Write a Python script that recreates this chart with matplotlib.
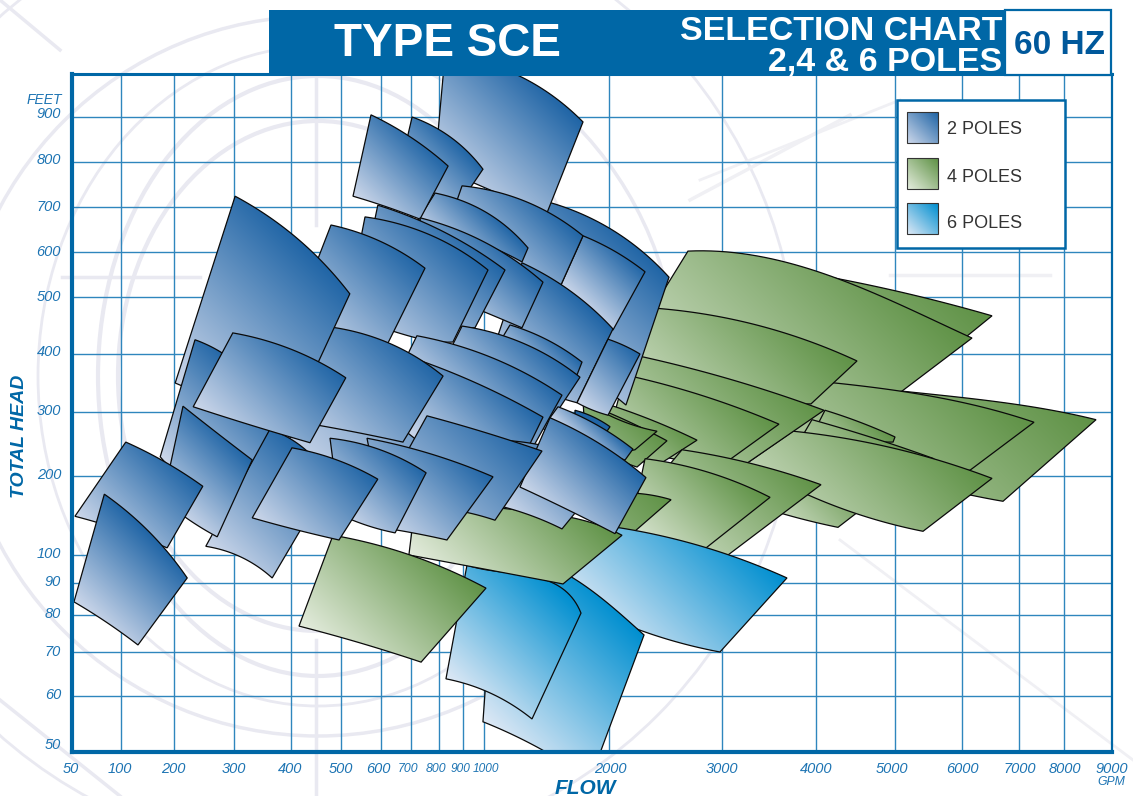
import numpy as np
import matplotlib
matplotlib.use("Agg")
import matplotlib.pyplot as plt
from matplotlib.colors import to_rgb
from matplotlib.patches import Ellipse, Rectangle, PathPatch
from matplotlib.path import Path

# printed axis, the spacing is not a true log scale
flow_ticks = [50, 100, 200, 300, 400, 500, 600, 700, 800, 900, 1000, 2000, 3000, 4000, 5000, 6000, 7000, 8000, 9000]
head_ticks = [40, 50, 60, 70, 80, 90, 100, 200, 300, 400, 500, 600, 700, 800, 900, 1000, 1300]

# every region: flow and head along the top edge (left to right),
# then flow and head along the bottom edge (right to left)
four_poles_back = [
    ([3830, 5567, 6526], [556, 495, 467], [5597, 4684, 3830], [386, 364, 355]),
    ([3830, 5104, 6667, 8667], [359, 336, 317, 288], [6719, 6140, 5075, 3830], [168, 176, 195, 209]),
    ([2699, 3479, 4392, 6175], [602, 587, 533, 428], [5104, 3511, 2186], [336, 321, 416]),
    ([3617, 4241, 5821, 7333], [359, 350, 321, 284], [6140, 4684, 3404], [209, 209, 225]),
    ([4114, 4557, 5000], [303, 284, 261], [4975, 4557, 3989], [253, 256, 272]),
    ([3957, 4810, 5582], [288, 256, 227], [5448, 4557, 3830], [209, 209, 256]),
    ([3617, 4177, 4810], [209, 189, 176], [4278, 3936, 3511], [135, 143, 157]),
    ([3755, 5075, 6526], [270, 241, 197], [5418, 4646, 3266], [130, 148, 220]),
    ([2363, 3479, 4519], [481, 446, 388], [3947, 2982, 2186], [314, 321, 347]),
    ([2230, 3117, 4101], [398, 355, 303], [3266, 2717, 2053], [220, 241, 288]),
    ([2142, 2894, 3606], [364, 324, 281], [3096, 2628, 2009], [227, 225, 272]),
    ([2009, 2425, 2779], [312, 284, 256], [2478, 2186, 1928], [222, 225, 241]),
    ([1848, 2186, 2513], [312, 284, 255], [2248, 2009, 1848], [214, 233, 256]),
    ([1792, 2035, 2425], [321, 292, 270], [2230, 2009, 1808], [241, 241, 264]),
    ([2646, 3298, 4063], [241, 220, 189], [3064, 2717, 2274], [100, 113, 170]),
    ([2319, 2894, 3511], [227, 205, 173], [2850, 2540, 2186], [108, 113, 132]),
    ([2248, 2407, 2549], [178, 175, 170], [2212, 2053, 1928], [128, 134, 144]),
]
four_back_shade = [.5, .35, .2, .3, .4, .4, .2, .3, .2, .3, .3, .3, .6, .6, .25, .1, .7]

six_poles = [
    ([1928, 2867, 3691], [138, 109, 91.8], [2982, 2274, 1568], [70.0, 75.9, 87.8]),
    ([1088, 1712, 2009, 2310], [104, 91.8, 83.1, 74.6], [1848, 1464, 995], [44.2, 50.4, 55.4]),
    ([919, 1208, 1552, 1776], [96.4, 93.6, 90.0, 80.6], [1384, 1048, 829], [55.9, 60.7, 63.9]),
]
six_shade = [0, 0, 0]

four_poles_front = [
    ([721, 1152, 1712, 2115], [182, 159, 147, 125], [1632, 1048, 693], [89.7, 94.6, 100]),
    ([484, 697, 1016], [125, 100, 88.4], [736, 540, 416], [67.7, 72.7, 77.0]),
]
four_front_shade = [0, 0]

two_poles = [
    ([1448, 1984, 2531], [716, 656, 544], [2150, 1768, 1368], [312, 372, 425]),
    ([510, 768, 1208], [416, 372, 338], [933, 598, 386], [170, 209, 241]),
    ([825, 1264, 1792], [1106, 998, 889], [1504, 1048, 786], [687, 738, 793]),
    ([704, 846, 995], [900, 856, 784], [854, 732, 647], [682, 704, 738]),
    ([1792, 2062, 2319], [636, 600, 556], [2035, 1808, 1616], [442, 477, 527]),
    ([896, 1344, 1792], [747, 711, 636], [1616, 1208, 825], [527, 582, 638]),
    ([786, 1024, 1352], [731, 687, 609], [1304, 948, 714], [578, 627, 660]),
    ([575, 704, 838], [905, 853, 791], [732, 620, 530], [673, 700, 724]),
    ([1304, 1712, 2035], [576, 509, 444], [1744, 1448, 1048], [316, 338, 390]),
    ([732, 981, 1472], [676, 627, 533], [1304, 981, 768], [446, 477, 516]),
    ([592, 804, 1168], [704, 649, 560], [957, 732, 548], [446, 460, 516]),
    ([560, 768, 1032], [678, 638, 560], [858, 721, 640, 510], [421, 428, 440, 460]),
    ([480, 590, 750], [660, 627, 564], [623, 498, 404], [419, 433, 454]),
    ([1208, 1504, 1784], [451, 425, 386], [1744, 1448, 1088], [364, 390, 407]),
    ([896, 1312, 1768], [449, 419, 360], [1488, 1128, 804], [272, 321, 372]),
    ([721, 1048, 1624], [432, 395, 329], [1392, 981, 663], [245, 288, 372]),
    ([707, 981, 1472], [393, 347, 292], [1168, 888, 690], [176, 209, 267]),
    ([1128, 1608, 2009], [256, 241, 209], [1624, 1392, 1152], [133, 149, 161]),
    ([1992, 2142, 2274], [426, 414, 400], [1992, 1872, 1744], [295, 303, 316]),
    ([1728, 1888, 2009], [303, 291, 277], [1984, 1848, 1728], [270, 281, 294]),
    ([1592, 1928, 2212], [309, 277, 242], [2142, 1848, 1528], [225, 248, 291]),
    ([1528, 1904, 2327], [291, 253, 198], [2053, 1712, 1288], [127, 154, 186]),
    ([482, 640, 817], [447, 416, 362], [673, 548, 389], [253, 267, 288]),
    ([302, 404, 522], [724, 638, 507], [454, 328, 202], [385, 329, 350]),
    ([235, 280, 384], [425, 402, 259], [309, 243, 174], [162, 182, 230]),
    ([363, 418, 478], [273, 248, 195], [367, 316, 253], [91.8, 98.9, 111]),
    ([215, 272, 332], [310, 267, 225], [272, 232, 179], [123, 141, 170]),
    ([109, 187, 248], [253, 220, 187], [187, 99, 53], [109, 132, 149]),
    ([83, 155, 222], [177, 128, 91.8], [132, 82, 52], [71.9, 78.6, 84.1]),
    ([298, 404, 512], [437, 407, 359], [438, 346, 232], [252, 275, 309]),
    ([757, 995, 1464], [294, 269, 239], [1088, 933, 585], [144, 153, 157]),
    ([565, 804, 1072], [259, 230, 199], [833, 750, 613], [119, 125, 134]),
    ([478, 598, 754], [259, 241, 205], [647, 580, 498], [128, 135, 151]),
    ([402, 492, 592], [244, 225, 196], [496, 404, 332], [119, 133, 147]),
]
two_shade = [.1] + [0] * 18 + [1] + [0] * 14

legend_labels = ["2 POLES", "4 POLES", "6 POLES"]
head_labels = [50, 60, 70, 80, 90, 100, 200, 300, 400, 500, 600, 700, 800, 900]
flow_labels = flow_ticks

BLUE = ("#ccd7ea", "#2065a6")
GREEN = ("#e4ecdd", "#5f9246")
CYAN = ("#dde8f5", "#008fd0")
FRAME = "#0067a6"
LABEL = "#1d74b3"
plt.rcParams["font.family"] = ["Liberation Sans", "DejaVu Sans"]

W, H = 1133, 796
fig = plt.figure(figsize=(W / 100, H / 100), dpi=100)


def pixel_axes(z):
    a = fig.add_axes([0, 0, 1, 1], facecolor="none", zorder=z)
    a.set_xlim(0, W)
    a.set_ylim(H, 0)
    a.axis("off")
    return a


# faded drawing behind the chart
bg = pixel_axes(0)
faint = "#e9e9f1"
pale = "#f0f0f4"
for w, h, lw in [(440, 600, 3), (400, 510, 3), (720, 720, 2.5), (960, 960, 2), (560, 660, 2)]:
    bg.add_patch(Ellipse((318, 376), w, h, fill=False, ec=faint, lw=lw))
bg.plot([316, 316], [74, 225], color=faint, lw=2.5)
bg.plot([316, 316], [640, 796], color=faint, lw=2.5)
bg.plot([62, 200], [277, 277], color=faint, lw=2.5)
bg.plot([0, 120], [700, 796], color=faint, lw=2.5)
bg.plot([0, 60], [0, 50], color=faint, lw=2.5)
bg.plot([690, 850], [200, 115], color=pale, lw=2.5)
bg.plot([700, 900], [180, 100], color=pale, lw=2)
bg.plot([840, 1133], [540, 760], color=pale, lw=2)
bg.plot([890, 1050], [275, 275], color=pale, lw=2.5)

# where the printed ticks sit on the page
flow_px = [72, 121, 174, 234, 291, 341, 381, 411, 439, 463, 484, 609, 722, 816, 895, 962, 1019, 1064, 1112]
head_pos = [796 - p for p in [800, 752, 696, 652, 615, 583, 555, 476, 412, 354, 297, 252, 207, 162, 117, 74, 20]]

L, R, T, B = 72, 1112, 74, 752
ax = fig.add_axes([L / W, 1 - B / H, (R - L) / W, (B - T) / H], facecolor="none", zorder=1)
ax.set_xscale("function", functions=(lambda v: np.interp(v, flow_ticks, flow_px),
                                     lambda v: np.interp(v, flow_px, flow_ticks)))
ax.set_yscale("function", functions=(lambda v: np.interp(v, head_ticks, head_pos),
                                     lambda v: np.interp(v, head_pos, head_ticks)))
ax.set_xlim(50, 9000)
ax.set_ylim(50, 1000)
ax.set_xticks(flow_ticks[1:-1])
ax.set_yticks(head_ticks[2:-2])
ax.minorticks_off()
ax.tick_params(length=0, labelbottom=False, labelleft=False)
ax.grid(True, color="#2f86bd", lw=1.0)
ax.set_axisbelow(True)
for name, lw in [("left", 3), ("bottom", 3), ("top", 2.2), ("right", 1.6)]:
    ax.spines[name].set_color(FRAME)
    ax.spines[name].set_linewidth(lw)
    ax.spines[name].set_zorder(500)


def curve(p):
    # smooth edge through the points
    p = np.asarray(p, float)
    u = np.r_[0, np.cumsum(np.hypot(*np.diff(p, axis=0).T))]
    u = u / u[-1]
    deg = min(len(p) - 1, 3)
    s = np.linspace(0, 1, 40)
    return np.column_stack([np.polyval(np.polyfit(u, p[:, 0], deg), s),
                            np.polyval(np.polyfit(u, p[:, 1], deg), s)])


z = 10


def region(top_flow, top_head, bottom_flow, bottom_head, colors, shade):
    global z
    t_d = ax.transData.transform(np.column_stack([top_flow, top_head]))
    b_d = ax.transData.transform(np.column_stack([bottom_flow, bottom_head]))
    outline = np.vstack([curve(t_d), curve(b_d)])
    verts = ax.transData.inverted().transform(np.vstack([outline, outline[0]]))
    patch = PathPatch(Path(verts, closed=True), fc="none", ec="#0a0a0a", lw=0.9, zorder=z + 1, joinstyle="miter")
    ax.add_patch(patch)
    # light in the lower left, dark in the upper right
    lo = outline.min(axis=0)
    hi = outline.max(axis=0)
    X, Y = np.meshgrid(np.linspace(lo[0], hi[0], 60), np.linspace(lo[1], hi[1], 60))
    diag = outline.sum(axis=1)
    s = (X + Y - diag.min()) / (diag.max() - diag.min())
    s = shade + (1 - shade) * np.clip(s, 0, 1)
    c0, c1 = np.array(to_rgb(colors[0])), np.array(to_rgb(colors[1]))
    a0, a1 = ax.transAxes.inverted().transform([lo, hi])
    im = ax.imshow(c0 + (c1 - c0) * s[..., None], extent=(a0[0], a1[0], a0[1], a1[1]), origin="lower",
                   aspect="auto", transform=ax.transAxes, interpolation="bilinear", zorder=z)
    im.set_clip_path(patch)
    z += 2


for group, shades, colors in [(four_poles_back, four_back_shade, GREEN), (six_poles, six_shade, CYAN),
                              (four_poles_front, four_front_shade, GREEN), (two_poles, two_shade, BLUE)]:
    for (tf, th, bf, bh), shade in zip(group, shades):
        region(tf, th, bf, bh, colors, shade)
ax.set_xlim(50, 9000)
ax.set_ylim(50, 1000)

# banner, legend and axis texts
top = pixel_axes(2)
top.add_patch(Rectangle((269, 10), 736, 65, fc=FRAME, ec="none"))
top.add_patch(Rectangle((1005, 10), 106, 65, fc="white", ec=FRAME, lw=1.6))
top.text(447, 44, "TYPE SCE", color="white", fontsize=33, fontweight="bold", ha="center", va="center")
top.text(1002, 31, "SELECTION CHART", color="white", fontsize=24.5, fontweight="bold", ha="right", va="center")
top.text(1002, 62, "2,4 & 6 POLES", color="white", fontsize=24.5, fontweight="bold", ha="right", va="center")
top.text(1059, 45, "60 HZ", color="#00589b", fontsize=24, fontweight="bold", ha="center", va="center")

top.add_patch(Rectangle((897, 100), 168, 148, fc="white", ec=FRAME, lw=1.8))
for label, colors, y0, ty in zip(legend_labels, [BLUE, GREEN, CYAN], [112, 158, 203], [130, 177, 223]):
    X, Y = np.meshgrid(np.linspace(0, 1, 32), np.linspace(0, 1, 32))
    c0, c1 = np.array(to_rgb(colors[0])), np.array(to_rgb(colors[1]))
    top.imshow(c0 + (c1 - c0) * ((X + Y) / 2)[..., None], extent=(907, 938, y0 + 31, y0), origin="lower",
               aspect="auto", zorder=5)
    top.add_patch(Rectangle((907, y0), 31, 31, fc="none", ec="#333333", lw=0.8, zorder=6))
    top.text(947, ty, label, color="#333333", fontsize=13, va="center", zorder=6)
top.set_xlim(0, W)
top.set_ylim(H, 0)

head_nudge = [7, 1, 0, 1, 1, 1, 1, 1, 2, 0, 0, 0, 2, 3]
for v, n in zip(head_labels, head_nudge):
    ax.annotate(str(v), (50, v), xytext=(-11, n), textcoords="offset pixels", annotation_clip=False,
                color=LABEL, fontsize=10.5, style="italic", ha="right", va="center")
top.text(62, 100, "FEET", color=LABEL, fontsize=10, style="italic", ha="right", va="center")

flow_shift = [-1, -1, -1, 0, -1, 0, -3, -3, -3, -2, 2, 1, 0, 0, -3, 0, 1, 1, 0]
flow_size = [10.5] * 7 + [8.8, 8.8, 8.6, 8.6] + [10.5] * 8
for v, n, fs in zip(flow_labels, flow_shift, flow_size):
    ax.annotate(str(v), (v, 50), xytext=(n, -17), textcoords="offset pixels", annotation_clip=False,
                color=LABEL, fontsize=fs, style="italic", ha="center", va="center")
top.text(1111, 782, "GPM", color=LABEL, fontsize=8.8, style="italic", ha="center", va="center")
top.text(585, 788, "FLOW", color=FRAME, fontsize=15, fontweight="bold", style="italic", ha="center", va="center")
top.text(20, 436, "TOTAL HEAD", color=FRAME, fontsize=14, fontweight="bold", style="italic", rotation=90,
         ha="center", va="center")

fig.savefig("out.png", dpi=100)
